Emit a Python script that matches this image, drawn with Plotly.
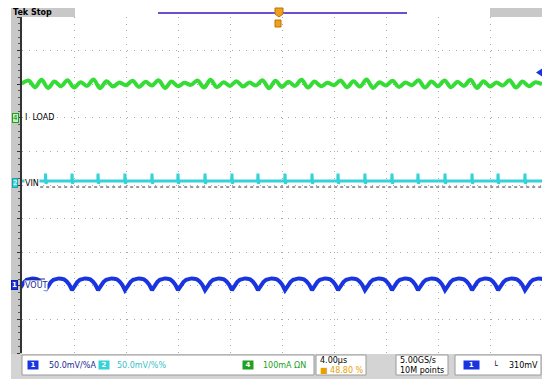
import plotly.graph_objects as go
import numpy as np

W, H = 542, 379
# graticule pixel box (decoration layout only)
GX0, GX1, GY0, GY1 = 22, 542, 17, 353

# ---------------- data ----------------
# horizontal: 4 us/div, 10 divisions ; vertical: screen divisions (10 div)
T_RANGE = [0, 40]
Y_RANGE = [-5, 5]

# VOUT (ch1, 50 mV/div): times of the sharp ripple dips (us) and the scallop shape between dips (div)
VOUT_DIPS = [-0.24, 1.81, 3.85, 5.85, 7.92, 10.0, 12.0, 14.08, 16.15, 18.15, 20.23,
             22.31, 24.31, 26.38, 28.46, 30.46, 32.54, 34.62, 36.62, 38.69, 40.77]
VOUT_SHAPE = [-3.13, -2.99, -2.89, -2.82, -2.79, -2.78, -2.79, -2.81, -2.87, -2.97, -3.13]

# VIN (ch2): flat level with a small spike at each switching edge (div)
VIN_LEVEL = 0.12
VIN_SPIKE = 0.34
VIN_UNDER = 0.04
VIN_GND = -0.06

# I LOAD (ch4, 100 mA/div): ripple samples across the screen (div)
ILOAD = [3.02, 3.11, 2.91, 3.13, 2.89, 3.08, 2.94, 3.12, 2.90, 3.06, 2.95, 3.14, 2.88, 3.09,
         2.93, 3.05, 2.97, 3.10, 2.92, 3.07, 2.96, 3.12, 2.89, 3.08, 2.94, 3.04, 2.98, 3.11,
         2.90, 3.13, 2.91, 3.06, 2.95, 3.09, 2.93, 3.05, 2.96, 3.12, 2.88, 3.10, 2.92, 3.07,
         2.95, 3.13, 2.90, 3.08, 2.94, 3.04, 2.97, 3.11, 2.91, 3.09, 2.93, 3.14, 2.89, 3.06,
         2.96, 3.10, 2.92, 3.05, 2.97, 3.12, 2.90, 3.08, 2.94, 3.11, 2.91, 3.07, 2.95, 3.13,
         2.89, 3.09, 2.93, 3.05, 2.96, 3.12, 2.90, 3.08, 2.94, 3.06, 3.00]

TRIG_LEVEL = 3.35   # trigger level marker (div)

# ---------------- build traces ----------------
vx, vy = [], []
n = len(VOUT_SHAPE) - 1
for a, b in zip(VOUT_DIPS[:-1], VOUT_DIPS[1:]):
    for i in range(n):
        vx.append(a + (b - a) * i / n)
        vy.append(VOUT_SHAPE[i])
vx.append(VOUT_DIPS[-1]); vy.append(VOUT_SHAPE[-1])

cx, cy = [T_RANGE[0]], [VIN_LEVEL]
for d in VOUT_DIPS[1:-1]:
    cx += [d - 0.02, d, d + 0.03, d + 0.12]
    cy += [VIN_LEVEL, VIN_SPIKE, VIN_UNDER, VIN_LEVEL]
cx.append(T_RANGE[1]); cy.append(VIN_LEVEL)

gx = list(np.linspace(T_RANGE[0], T_RANGE[1], len(ILOAD)))

fig = go.Figure()
fig.add_trace(go.Scatter(x=gx, y=ILOAD, mode="lines", line=dict(color="#36dc36", width=4, shape="spline"),
                         hoverinfo="skip"))
fig.add_trace(go.Scatter(x=cx, y=cy, mode="lines", line=dict(color="#35d2d8", width=3),
                         hoverinfo="skip"))
fig.add_trace(go.Scatter(x=vx, y=vy, mode="lines", line=dict(color="#1a35e0", width=4),
                         hoverinfo="skip"))


def fx(p):
    return p / W


def fy(p):
    return 1 - p / H


shapes = []
# ground ref dashed line for VIN
shapes.append(dict(type="line", xref="x", yref="y", x0=1.4, x1=40, y0=VIN_GND, y1=VIN_GND,
                   line=dict(color="#333333", width=1, dash="3px,3px"), layer="above"))
# left gray strip
shapes.append(dict(type="rect", xref="paper", yref="paper", x0=fx(11), x1=fx(GX0), y0=fy(376), y1=fy(8),
                   fillcolor="#c8c8c8", line=dict(width=0), layer="below"))
# top header gray pieces
shapes.append(dict(type="rect", xref="paper", yref="paper", x0=fx(11), x1=fx(75), y0=fy(GY0), y1=fy(8),
                   fillcolor="#c8c8c8", line=dict(width=0), layer="below"))
shapes.append(dict(type="rect", xref="paper", yref="paper", x0=fx(490), x1=fx(542), y0=fy(GY0), y1=fy(8),
                   fillcolor="#c8c8c8", line=dict(width=0), layer="below"))
# record view bar (purple)
shapes.append(dict(type="line", xref="paper", yref="paper", x0=fx(158), x1=fx(407), y0=fy(13), y1=fy(13),
                   line=dict(color="#6a4fd0", width=2)))
# trigger position markers (orange)
shapes.append(dict(type="path", xref="paper", yref="paper",
                   path=f"M {fx(275)} {fy(8)} L {fx(283)} {fy(8)} L {fx(283)} {fy(14)} L {fx(279)} {fy(17)} L {fx(275)} {fy(14)} Z",
                   fillcolor="#f0a020", line=dict(color="#c07000", width=1)))
shapes.append(dict(type="rect", xref="paper", yref="paper", x0=fx(275), x1=fx(281), y0=fy(27), y1=fy(20),
                   fillcolor="#f0a020", line=dict(color="#c07000", width=1)))
# trigger level marker (blue, right edge)
shapes.append(dict(type="path", xref="paper", yref="paper",
                   path=f"M {fx(536)} {fy(185 - TRIG_LEVEL * 33.6)} L {fx(542)} {fy(181 - TRIG_LEVEL * 33.6)} L {fx(542)} {fy(189 - TRIG_LEVEL * 33.6)} Z",
                   fillcolor="#1a35e0", line=dict(width=0)))
# VOUT label overline
shapes.append(dict(type="line", xref="paper", yref="paper", x0=fx(25), x1=fx(45), y0=fy(279), y1=fy(279),
                   line=dict(color="#1a2a90", width=1)))
# bottom status area background
shapes.append(dict(type="rect", xref="paper", yref="paper", x0=fx(11), x1=fx(542), y0=fy(379), y1=fy(354),
                   fillcolor="#d4d4d4", line=dict(width=0), layer="below"))
for (a, b) in [(22, 314), (316, 366), (396, 448), (455, 541)]:
    shapes.append(dict(type="rect", xref="paper", yref="paper", x0=fx(a), x1=fx(b), y0=fy(375), y1=fy(355),
                       fillcolor="white", line=dict(color="#9a9a9a", width=1), layer="below"))

ann = []


def label(text, x, y, color="black", size=8, bg=None, anchor="left", border=None):
    d = dict(text=text, x=fx(x), y=fy(y), xref="paper", yref="paper", showarrow=False,
             xanchor=anchor, yanchor="middle", font=dict(family="DejaVu Sans", size=size, color=color))
    if bg:
        d["bgcolor"] = bg
    if border:
        d["bordercolor"] = border
        d["borderwidth"] = 1
    d["borderpad"] = 0
    ann.append(d)


label("<b>Tek Stop</b>", 12, 12, size=8)
# channel badges on left
label("4", 15, 118, color="#108010", size=7, bg="#bff0bf", anchor="center", border="#20a020")
label("2", 15, 183, color="#ffffff", size=7, bg="#35d2d8", anchor="center", border="#20a0a8")
label("<b>1</b>", 14, 285, color="#ffffff", size=7, bg="#1a35e0", anchor="center", border="#1020a0")
# channel labels
label("I  LOAD", 24, 118, size=8)
label("VIN", 24, 183, size=8, bg="white")
label("VOUT", 24, 285, color="#1a2a90", size=8, bg="white")
# status bar
label("<b> 1 </b>", 27, 365, color="white", size=7, bg="#1a35e0")
label("50.0mV/%A", 48, 365, color="#1a2a90", size=8)
label("<b> 2 </b>", 98, 365, color="white", size=7, bg="#35d2d8")
label("50.0mV/%%", 116, 365, color="#35c2c8", size=8)
label("<b> 4 </b>", 242, 365, color="white", size=7, bg="#20a020")
label("100mA \u03a9N", 262, 365, color="#20a020", size=8)
label("4.00\u00b5s", 319, 360, size=8)
label("\u25a0 48.80 %", 319, 370, color="#e8a000", size=8)
label("5.00GS/s", 399, 360, size=8)
label("10M points", 399, 370, size=8)
label("<b>  1  </b>", 463, 365, color="white", size=7, bg="#1a35e0")
label("\u2514", 492, 365, size=8)
label("310mV", 508, 365, size=8)

fig.update_layout(
    width=W, height=H, margin=dict(l=0, r=0, t=0, b=0),
    paper_bgcolor="white", plot_bgcolor="white", showlegend=False,
    shapes=shapes, annotations=ann,
    xaxis=dict(domain=[fx(GX0), fx(GX1)], range=T_RANGE, dtick=4, tick0=0,
               showgrid=True, gridcolor="#a8a8a8", gridwidth=1, griddash="1px,5.7px",
               zeroline=False, showticklabels=False, showline=False, ticks=""),
    yaxis=dict(domain=[fy(GY1), fy(GY0)], range=Y_RANGE, dtick=1, tick0=0,
               showgrid=True, gridcolor="#a8a8a8", gridwidth=1, griddash="1px,6px",
               zeroline=False, showticklabels=False, showline=True, linecolor="#333333", linewidth=1.5,
               ticks="outside", ticklen=3, tickcolor="#333333",
               minor=dict(dtick=0.2, ticks="outside", ticklen=2, tickcolor="#555555")),
)

fig.write_html("out.html", config={"displayModeBar": False},
               post_script="document.body.style.margin='0';document.body.style.overflow='hidden';")
